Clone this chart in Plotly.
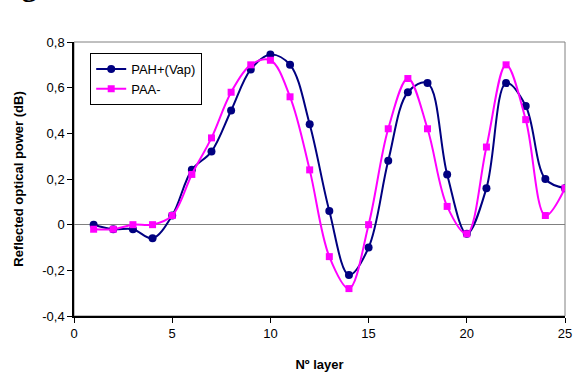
import plotly.graph_objects as go

layers = list(range(1, 26))
pah_vap = [0.0, -0.02, -0.02, -0.06, 0.04, 0.24, 0.32, 0.50, 0.68, 0.745,
           0.70, 0.44, 0.06, -0.22, -0.10, 0.28, 0.58, 0.62, 0.22, -0.04,
           0.16, 0.62, 0.52, 0.20, 0.16]
paa = [-0.02, -0.02, 0.0, 0.0, 0.04, 0.22, 0.38, 0.58, 0.70, 0.72,
       0.56, 0.24, -0.14, -0.28, 0.0, 0.42, 0.64, 0.42, 0.08, -0.04,
       0.34, 0.70, 0.46, 0.04, 0.16]
y_ticks = [-0.4, -0.2, 0, 0.2, 0.4, 0.6, 0.8]
y_ticktext = ["-0,4", "-0,2", "0", "0,2", "0,4", "0,6", "0,8"]
x_ticks = [0, 5, 10, 15, 20, 25]

fig = go.Figure()
fig.add_trace(go.Scatter(
    x=layers, y=pah_vap, name="PAH+(Vap)", mode="lines+markers",
    line=dict(color="#000080", width=2, shape="spline", smoothing=1),
    marker=dict(symbol="circle", size=8, color="#000080")))
fig.add_trace(go.Scatter(
    x=layers, y=paa, name="PAA-", mode="lines+markers",
    line=dict(color="#FF00FF", width=2, shape="spline", smoothing=1),
    marker=dict(symbol="square", size=7, color="#FF00FF")))

fig.update_layout(
    width=574, height=372,
    margin=dict(l=74, r=9, t=42, b=56),
    paper_bgcolor="white", plot_bgcolor="white",
    font=dict(family="Liberation Sans, Arial", size=13, color="black"),
    showlegend=True,
    legend=dict(x=0.033, y=0.96, xanchor="left", yanchor="top",
                bordercolor="black", borderwidth=1, bgcolor="white",
                font=dict(size=13), tracegroupgap=0, itemwidth=30),
    xaxis=dict(range=[0, 25], tickvals=x_ticks, showgrid=False,
               showline=True, linecolor="black", linewidth=1.5,
               ticks="outside", ticklen=5, tickcolor="black",
               tickfont=dict(size=13), zeroline=False, automargin=False,
               title=dict(text="<b>Nº layer</b>", font=dict(size=13), standoff=20)),
    yaxis=dict(range=[-0.4, 0.8], tickvals=y_ticks, ticktext=y_ticktext,
               showgrid=False, showline=True, linecolor="black", linewidth=1.5,
               ticks="outside", ticklen=5, tickcolor="black",
               tickfont=dict(size=13), zeroline=True, zerolinecolor="#808080",
               zerolinewidth=1, automargin=False,
               title=dict(text="<b>Reflected optical power (dB)</b>",
                          font=dict(size=13), standoff=16)),
    shapes=[dict(type="rect", xref="paper", yref="paper", x0=0, y0=0, x1=1, y1=1,
                 line=dict(color="#808080", width=1), layer="below")],
    annotations=[dict(text="<b>Figures</b>", xref="paper", yref="paper",
                      x=-0.164, y=1.138, xanchor="left", yanchor="bottom",
                      showarrow=False,
                      font=dict(family="Liberation Serif, Times New Roman", size=30))],
)

fig.write_html("out.html", post_script="document.body.style.margin='0';",
               config={"displayModeBar": False})
